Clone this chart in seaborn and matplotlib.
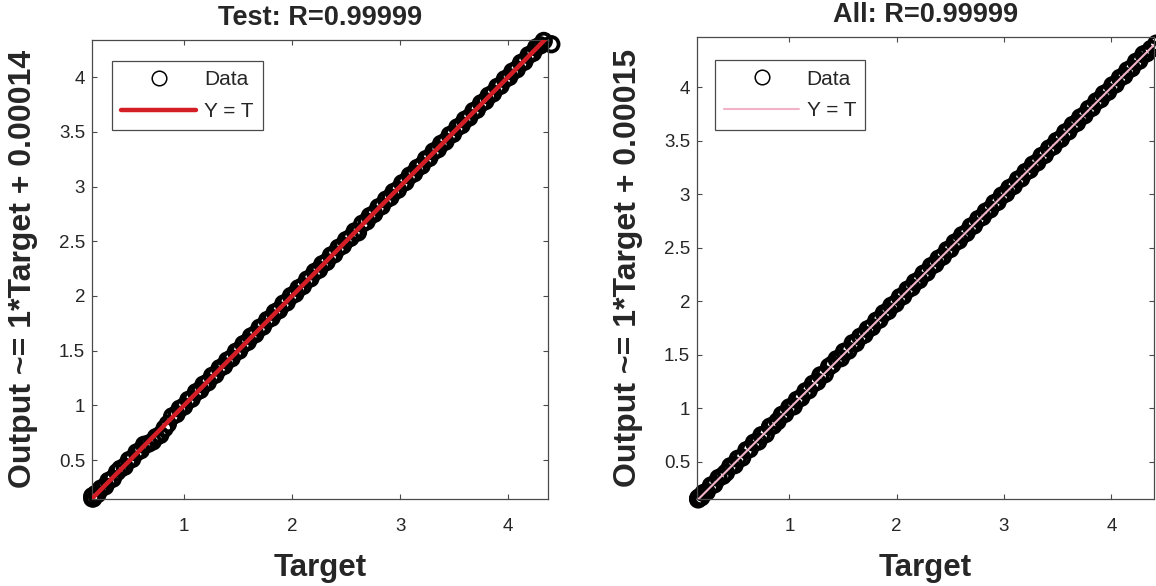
import matplotlib
matplotlib.use("Agg")
import matplotlib.pyplot as plt
from matplotlib.lines import Line2D
import pandas as pd
import seaborn as sns

# ---- regression data -------------------------------------------------------
test_target = [
    0.15, 0.15, 0.16, 0.18, 0.20, 0.23, 0.27, 0.30, 0.34, 0.38,
    0.41, 0.45, 0.49, 0.52, 0.56, 0.60, 0.63, 0.67, 0.71, 0.74,
    0.78, 0.82, 0.85, 0.89, 0.93, 0.96, 1.00, 1.04, 1.07, 1.11,
    1.15, 1.18, 1.22, 1.26, 1.29, 1.33, 1.37, 1.40, 1.44, 1.48,
    1.51, 1.55, 1.59, 1.62, 1.66, 1.70, 1.73, 1.77, 1.81, 1.84,
    1.88, 1.92, 1.95, 1.99, 2.03, 2.06, 2.10, 2.14, 2.17, 2.21,
    2.25, 2.28, 2.32, 2.36, 2.39, 2.43, 2.47, 2.50, 2.54, 2.58,
    2.61, 2.65, 2.69, 2.72, 2.76, 2.80, 2.83, 2.87, 2.91, 2.94,
    2.98, 3.02, 3.05, 3.09, 3.13, 3.16, 3.20, 3.24, 3.27, 3.31,
    3.35, 3.38, 3.42, 3.46, 3.49, 3.53, 3.57, 3.60, 3.64, 3.68,
    3.71, 3.75, 3.79, 3.82, 3.86, 3.90, 3.93, 3.97, 4.01, 4.04,
    4.08, 4.12, 4.15, 4.19, 4.23, 4.26, 4.30, 4.33, 4.40,
]
test_output = [
    0.15, 0.17, 0.15, 0.19, 0.19, 0.24, 0.26, 0.31, 0.33, 0.39,
    0.42, 0.44, 0.50, 0.51, 0.57, 0.59, 0.64, 0.65, 0.67, 0.71,
    0.73, 0.79, 0.83, 0.90, 0.92, 0.97, 0.99, 1.05, 1.06, 1.12,
    1.14, 1.19, 1.21, 1.27, 1.28, 1.34, 1.36, 1.41, 1.43, 1.49,
    1.50, 1.56, 1.58, 1.63, 1.65, 1.71, 1.72, 1.78, 1.80, 1.85,
    1.87, 1.93, 1.94, 2.00, 2.02, 2.07, 2.09, 2.15, 2.16, 2.22,
    2.24, 2.29, 2.31, 2.37, 2.38, 2.44, 2.46, 2.51, 2.53, 2.59,
    2.58, 2.66, 2.68, 2.73, 2.75, 2.81, 2.82, 2.88, 2.90, 2.95,
    2.97, 3.03, 3.04, 3.10, 3.12, 3.17, 3.19, 3.25, 3.26, 3.32,
    3.34, 3.39, 3.41, 3.47, 3.48, 3.54, 3.56, 3.61, 3.63, 3.69,
    3.70, 3.76, 3.78, 3.83, 3.85, 3.91, 3.92, 3.98, 4.00, 4.05,
    4.07, 4.13, 4.14, 4.20, 4.22, 4.27, 4.29, 4.33, 4.30,
]

all_target = [
    0.15, 0.15, 0.16, 0.18, 0.20, 0.23, 0.27, 0.30, 0.34, 0.38,
    0.41, 0.45, 0.49, 0.52, 0.56, 0.60, 0.63, 0.67, 0.71, 0.74,
    0.78, 0.82, 0.85, 0.89, 0.93, 0.96, 1.00, 1.04, 1.07, 1.11,
    1.15, 1.18, 1.22, 1.26, 1.29, 1.33, 1.37, 1.40, 1.44, 1.48,
    1.51, 1.55, 1.59, 1.62, 1.66, 1.70, 1.73, 1.77, 1.81, 1.84,
    1.88, 1.92, 1.95, 1.99, 2.03, 2.06, 2.10, 2.14, 2.17, 2.21,
    2.25, 2.28, 2.32, 2.36, 2.39, 2.43, 2.47, 2.50, 2.54, 2.58,
    2.61, 2.65, 2.69, 2.72, 2.76, 2.80, 2.83, 2.87, 2.91, 2.94,
    2.98, 3.02, 3.05, 3.09, 3.13, 3.16, 3.20, 3.24, 3.27, 3.31,
    3.35, 3.38, 3.42, 3.46, 3.49, 3.53, 3.57, 3.60, 3.64, 3.68,
    3.71, 3.75, 3.79, 3.82, 3.86, 3.90, 3.93, 3.97, 4.01, 4.04,
    4.08, 4.12, 4.15, 4.19, 4.23, 4.26, 4.30, 4.33, 4.37, 4.42,
]
all_output = [
    0.15, 0.16, 0.17, 0.17, 0.21, 0.22, 0.28, 0.29, 0.35, 0.37,
    0.40, 0.46, 0.47, 0.53, 0.54, 0.61, 0.62, 0.68, 0.69, 0.75,
    0.76, 0.83, 0.84, 0.88, 0.94, 0.95, 1.01, 1.02, 1.08, 1.10,
    1.16, 1.17, 1.23, 1.25, 1.31, 1.32, 1.39, 1.41, 1.46, 1.47,
    1.53, 1.54, 1.61, 1.61, 1.67, 1.69, 1.74, 1.76, 1.82, 1.83,
    1.89, 1.91, 1.96, 1.98, 2.04, 2.05, 2.11, 2.13, 2.18, 2.20,
    2.26, 2.27, 2.33, 2.35, 2.40, 2.42, 2.48, 2.49, 2.55, 2.57,
    2.62, 2.64, 2.70, 2.71, 2.77, 2.79, 2.84, 2.86, 2.92, 2.93,
    2.99, 3.01, 3.06, 3.08, 3.14, 3.15, 3.21, 3.23, 3.28, 3.30,
    3.36, 3.37, 3.43, 3.45, 3.50, 3.52, 3.58, 3.59, 3.65, 3.67,
    3.72, 3.74, 3.80, 3.81, 3.87, 3.89, 3.94, 3.96, 4.02, 4.03,
    4.09, 4.11, 4.16, 4.18, 4.24, 4.25, 4.31, 4.32, 4.36, 4.41,
]

panels = [
    dict(title="Test: R=0.99999", ylabel="Output ~= 1*Target + 0.00014",
         target=test_target, output=test_output,
         line_color="#d41e26", line_width=3.2,
         xlim=(0.148, 4.37), ylim=(0.145, 4.34),
         rect=[0.0796, 0.1485, 0.3945, 0.7835], legend_anchor=(0.044, 0.954)),
    dict(title="All: R=0.99999", ylabel="Output ~= 1*Target + 0.00015",
         target=all_target, output=all_output,
         line_color="#f2b3c8", line_width=1.5,
         xlim=(0.14, 4.40), ylim=(0.154, 4.47),
         rect=[0.603, 0.1485, 0.3955, 0.788], legend_anchor=(0.039, 0.95)),
]

x_ticks = [1, 2, 3, 4]
y_ticks = [0.5, 1, 1.5, 2, 2.5, 3, 3.5, 4]
y_tick_labels = ["0.5", "1", "1.5", "2", "2.5", "3", "3.5", "4"]

sns.set_theme(style="white")
plt.rcParams["font.family"] = ["Liberation Sans", "DejaVu Sans"]

fig = plt.figure(figsize=(11.56, 5.86), dpi=100)
axis_grey = "#4a4a4a"
text_dark = "#262626"

for p in panels:
    ax = fig.add_axes(p["rect"])
    df = pd.DataFrame({"Target": p["target"], "Output": p["output"]})
    sns.scatterplot(data=df, x="Target", y="Output", ax=ax, marker="o",
                    s=110, facecolors="none", edgecolor="black",
                    linewidth=2.7, legend=False, clip_on=False, zorder=2)
    ax.axline((0, 0), slope=1, color=p["line_color"], lw=p["line_width"],
              zorder=3)

    ax.set_xlim(*p["xlim"])
    ax.set_ylim(*p["ylim"])
    ax.set_xticks(x_ticks)
    ax.set_xticklabels([str(t) for t in x_ticks])
    ax.set_yticks(y_ticks)
    ax.set_yticklabels(y_tick_labels)
    ax.tick_params(direction="in", length=3.5, width=0.8, color=axis_grey,
                   labelsize=13.5, labelcolor=text_dark, top=True, right=True,
                   bottom=True, left=True)
    ax.tick_params(axis="x", pad=13.5)
    ax.tick_params(axis="y", pad=5)
    for sp in ax.spines.values():
        sp.set_visible(True)
        sp.set_color(axis_grey)
        sp.set_linewidth(0.9)

    ax.set_title(p["title"], fontsize=19.5, fontweight="bold",
                 color=text_dark, pad=11)
    ax.set_xlabel("Target", fontsize=22.5, fontweight="bold",
                  color=text_dark, labelpad=13)
    ax.set_ylabel(p["ylabel"], fontsize=23, fontweight="bold",
                  color=text_dark, labelpad=15)

    handles = [
        Line2D([], [], linestyle="none", marker="o", markersize=10.5,
               markerfacecolor="none", markeredgecolor="black",
               markeredgewidth=1.1),
        Line2D([], [], color=p["line_color"], lw=p["line_width"]),
    ]
    leg = ax.legend(handles, ["Data", "Y = T"], loc="upper left",
                    bbox_to_anchor=p["legend_anchor"], borderaxespad=0,
                    fontsize=15, frameon=True, fancybox=False,
                    framealpha=1, edgecolor=axis_grey, handlelength=3.6,
                    handletextpad=0.35, labelspacing=0.6, borderpad=0.45)
    leg.get_frame().set_linewidth(0.9)

fig.savefig("out.png", dpi=100)
